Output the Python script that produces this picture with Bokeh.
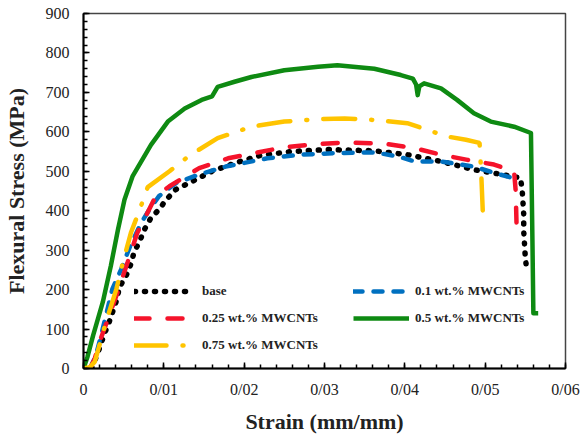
from bokeh.plotting import figure
from bokeh.models import FixedTicker, Legend, LegendItem, Range1d
from bokeh.embed import file_html
from bokeh.resources import INLINE

# ---------------- data ----------------
base_strain = [0.001, 0.0018, 0.0026, 0.0032, 0.0041, 0.0045, 0.0053, 0.0059, 0.0063, 0.007,
               0.0076, 0.0084, 0.0094, 0.0103, 0.0115, 0.0136, 0.016, 0.019, 0.022, 0.0258,
               0.0304, 0.0362, 0.0403, 0.0445, 0.0486, 0.0515, 0.0544, 0.0546, 0.0547, 0.0548,
               0.0548, 0.0549, 0.055, 0.0552]
base_stress = [0, 40, 88, 118, 172, 207, 235, 265, 295, 323,
               353, 382, 403, 428, 454, 475, 500, 522, 540, 550,
               555, 552, 542, 525, 504, 494, 483, 454, 424, 391,
               348, 315, 280, 247]

c01_strain = [0.0008, 0.0015, 0.0022, 0.0036, 0.0047, 0.0058, 0.0072, 0.0082, 0.0094, 0.0115,
              0.0144, 0.0177, 0.0229, 0.0271, 0.0312, 0.0362, 0.0391, 0.0412, 0.0445, 0.0486,
              0.0511, 0.0534]
c01_stress = [0, 30, 84, 202, 252, 310, 370, 403, 437, 470,
              492, 512, 533, 542, 546, 548, 538, 525, 525, 512,
              496, 483]

c025_strain = [0.0008, 0.0014, 0.002, 0.0041, 0.0055, 0.0067, 0.009, 0.0107, 0.0144, 0.018,
               0.0213, 0.025, 0.0292, 0.0325, 0.0374, 0.0412, 0.0445, 0.0478, 0.0511, 0.0536,
               0.0538, 0.0539]
c025_stress = [0, 25, 67, 185, 270, 344, 437, 462, 508, 533,
               546, 561, 569, 573, 570, 559, 542, 529, 517, 500,
               450, 370]

c05_strain = [0, 0.0005, 0.0012, 0.0024, 0.0034, 0.0043, 0.0051, 0.0061, 0.0078, 0.0084,
              0.0105, 0.0126, 0.0147, 0.016, 0.0167, 0.0188, 0.0209, 0.025, 0.0292, 0.0316,
              0.0362, 0.0395, 0.041, 0.0414, 0.0416, 0.0418, 0.0424, 0.0445, 0.0465, 0.0486,
              0.0507, 0.0536, 0.0557, 0.0559, 0.056, 0.0566]
c05_stress = [0, 30, 84, 168, 260, 353, 428, 487, 546, 567,
              626, 659, 681, 690, 714, 727, 739, 756, 765, 769,
              760, 744, 735, 720, 693, 715, 723, 710, 681, 647,
              626, 613, 597, 300, 140, 140]

c075_strain = [0, 0.0008, 0.0014, 0.0028, 0.0041, 0.0049, 0.0059, 0.007, 0.008, 0.0107,
               0.0132, 0.0167, 0.0209, 0.025, 0.0292, 0.0325, 0.0362, 0.0403, 0.0428, 0.0453,
               0.0476, 0.0493, 0.0495, 0.0497, 0.05]
c075_stress = [0, 3, 17, 118, 202, 269, 344, 403, 460, 500,
               540, 584, 613, 626, 632, 634, 630, 622, 605, 588,
               580, 572, 500, 400, 365]

x_ticks = [0, 0.01, 0.02, 0.03, 0.04, 0.05, 0.06]
x_tick_labels = ["0", "0/01", "0/02", "0/03", "0/04", "0/05", "0/06"]
y_ticks = [0, 100, 200, 300, 400, 500, 600, 700, 800, 900]

series_names = ["base", "0.1 wt.% MWCNTs", "0.25 wt.% MWCNTs", "0.5 wt.% MWCNTs", "0.75 wt.% MWCNTs"]

# ---------------- figure ----------------
SERIF = "Liberation Serif"

p = figure(width=580, height=436, output_backend="svg", toolbar_location=None,
           x_range=Range1d(0, 0.06), y_range=Range1d(0, 900),
           min_border_left=82, min_border_right=15, min_border_top=13, min_border_bottom=66)
p.grid.visible = False
p.outline_line_color = "#444444"
p.outline_line_width = 1.5
p.background_fill_color = "white"
p.border_fill_color = "white"

xa = p.xaxis[0]
xa.ticker = FixedTicker(ticks=x_ticks, minor_ticks=[i * 0.002 for i in range(31)])
xa.major_label_overrides = dict(zip(x_ticks, x_tick_labels))
ya = p.yaxis[0]
ya.ticker = FixedTicker(ticks=y_ticks, minor_ticks=list(range(0, 901, 20)))

for ax in (xa, ya):
    ax.axis_line_color = "black"
    ax.axis_line_width = 2
    ax.major_tick_in = 6
    ax.major_tick_out = 0
    ax.minor_tick_in = 4
    ax.minor_tick_out = 0
    ax.major_tick_line_color = "black"
    ax.minor_tick_line_color = "black"
    ax.major_tick_line_width = 1.5
    ax.minor_tick_line_width = 1.5
    ax.major_label_text_font = SERIF
    ax.major_label_text_font_size = "16px"
    ax.major_label_text_color = "#222222"
    ax.axis_label_text_font = SERIF
    ax.axis_label_text_font_style = "bold"
    ax.axis_label_text_font_size = "22px"
    ax.axis_label_text_color = "#222222"

xa.axis_label = "Strain (mm/mm)"
xa.major_label_standoff = 12
xa.axis_label_standoff = 8
ya.axis_label = "Flexural Stress (MPa)"
ya.major_label_standoff = 14
ya.axis_label_standoff = 14

r_base = p.line(base_strain, base_stress, line_color="black", line_width=5.5,
                line_dash="1 9", line_cap="round")
r01 = p.line(c01_strain, c01_stress, line_color="#0070C0", line_width=4.5,
             line_dash="9 11", line_cap="round")
r025 = p.line(c025_strain, c025_stress, line_color="#F5132B", line_width=4.5,
              line_dash="15 18", line_cap="round")
r05 = p.line(c05_strain, c05_stress, line_color="#0E8A12", line_width=4.5,
             line_join="round")
r075 = p.line(c075_strain, c075_stress, line_color="#FFC400", line_width=4.5,
              line_dash="32 16 1 16", line_cap="round")


def make_legend(items, loc, standoff):
    lg = Legend(items=items, location=loc, orientation="vertical",
                glyph_width=56, glyph_height=20, label_height=20, spacing=7,
                padding=0, margin=0, label_standoff=standoff,
                label_text_font=SERIF, label_text_font_style="bold",
                label_text_font_size="13px", label_text_color="#222222",
                background_fill_alpha=0, border_line_alpha=0)
    return lg


leg1 = make_legend([LegendItem(label=series_names[0], renderers=[r_base]),
                    LegendItem(label=series_names[2], renderers=[r025]),
                    LegendItem(label=series_names[4], renderers=[r075])], (51, 13), 12)
leg2 = make_legend([LegendItem(label=series_names[1], renderers=[r01]),
                    LegendItem(label=series_names[3], renderers=[r05])], (270, 40), 6)
p.add_layout(leg1, "center")
p.add_layout(leg2, "center")

open("out.html", "w").write(file_html(p, INLINE))
